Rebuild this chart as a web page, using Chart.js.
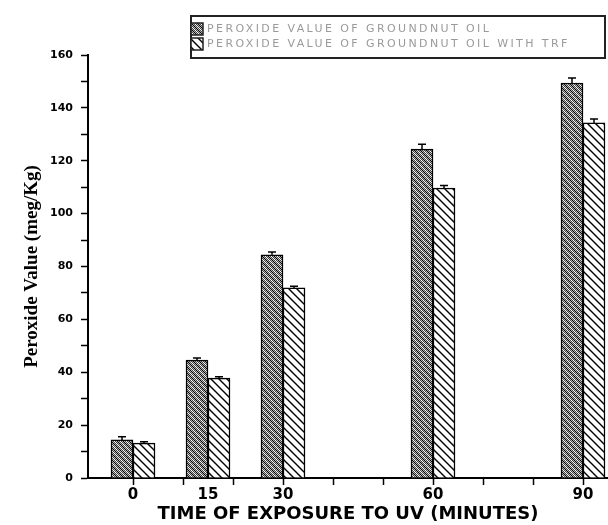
<!DOCTYPE html>
<html>
<head>
<meta charset="utf-8">
<script src="https://cdn.jsdelivr.net/npm/chart.js@4.4.1/dist/chart.umd.min.js"></script>
<style>
  body { margin: 0; background: #fff; }
</style>
</head>
<body>
<canvas id="bar-chart" width="608" height="525"></canvas>
<script>
const times = [0, 15, 30, 60, 90];
const oilValues = [14.4, 44.6, 84.4, 124.4, 149.4];
const trfValues = [13.2, 37.8, 71.9, 109.7, 134.3];
const oilErrors = [1.2, 0.8, 1.1, 1.8, 1.9];
const trfErrors = [0.5, 0.5, 0.6, 0.9, 1.5];
const xTickLabels = [0, 15, 30, 60, 90];
const xTickMarks = [0, 10, 15, 20, 30, 40, 50, 60, 70, 80, 90];
const seriesLabels = ['PEROXIDE VALUE OF GROUNDNUT OIL', 'PEROXIDE VALUE OF GROUNDNUT OIL WITH TRF'];

// fill patterns like the old plot
function makePattern(dense) {
  const size = dense ? 6 : 8;
  const tile = document.createElement('canvas');
  tile.width = size;
  tile.height = size;
  const c = tile.getContext('2d');
  c.fillStyle = '#fff';
  c.fillRect(0, 0, size, size);
  if (dense) {
    c.fillStyle = '#444';
    for (let y = 0; y < size; y++) {
      for (let x = y % 2; x < size; x += 2) c.fillRect(x, y, 1, 1);
    }
  }
  c.strokeStyle = '#000';
  c.lineWidth = dense ? 1.2 : 1.4;
  c.beginPath();
  for (const k of [-size, 0, size]) {
    c.moveTo(k - 1, -1);
    c.lineTo(k + size + 1, size + 1);
  }
  c.stroke();
  return c.createPattern(tile, 'repeat');
}

const errorBars = {
  id: 'errorBars',
  afterDatasetsDraw(chart) {
    const ctx = chart.ctx;
    const yScale = chart.scales.y;
    const errs = [oilErrors, trfErrors];
    ctx.save();
    ctx.strokeStyle = '#000';
    ctx.lineWidth = 1.5;
    chart.data.datasets.forEach((ds, d) => {
      chart.getDatasetMeta(d).data.forEach((bar, i) => {
        const top = yScale.getPixelForValue(ds.data[i].y + errs[d][i]);
        ctx.beginPath();
        ctx.moveTo(bar.x, bar.y);
        ctx.lineTo(bar.x, top);
        ctx.moveTo(bar.x - 4, top);
        ctx.lineTo(bar.x + 4, top);
        ctx.stroke();
      });
    });
    ctx.restore();
  }
};

const boxLegend = {
  id: 'boxLegend',
  afterDraw(chart) {
    const ctx = chart.ctx;
    ctx.save();
    ctx.strokeStyle = '#222';
    ctx.lineWidth = 2;
    ctx.strokeRect(191, 16, 414, 42);
    ctx.font = '11px "DejaVu Sans"';
    ctx.letterSpacing = '2.4px';
    ctx.textBaseline = 'middle';
    chart.data.datasets.forEach((ds, i) => {
      const y = 29 + i * 15;
      ctx.fillStyle = ds.backgroundColor;
      ctx.fillRect(191, y - 6, 12, 12);
      ctx.lineWidth = 1.5;
      ctx.strokeRect(191, y - 6, 12, 12);
      ctx.fillStyle = '#9a9a9a';
      ctx.fillText(ds.label, 207, y);
    });
    ctx.restore();
  }
};

new Chart(document.getElementById('bar-chart'), {
  type: 'bar',
  data: {
    datasets: [
      {
        label: seriesLabels[0],
        data: times.map((t, i) => ({ x: t, y: oilValues[i] })),
        backgroundColor: makePattern(true),
        borderColor: '#000',
        borderWidth: 1.5,
        barThickness: 22
      },
      {
        label: seriesLabels[1],
        data: times.map((t, i) => ({ x: t, y: trfValues[i] })),
        backgroundColor: makePattern(false),
        borderColor: '#000',
        borderWidth: 1.5,
        barThickness: 22
      }
    ]
  },
  options: {
    responsive: false,
    animation: false,
    layout: { padding: { top: 55, left: 0, right: 0, bottom: 0 } },
    plugins: {
      legend: { display: false },
      tooltip: { enabled: false }
    },
    scales: {
      x: {
        type: 'linear',
        min: -9,
        max: 95,
        offset: false,
        afterBuildTicks: axis => {
          axis.ticks = xTickMarks.map(v => ({ value: v }));
        },
        afterFit: s => { s.height = 47; },
        grid: {
          offset: false,
          drawOnChartArea: false,
          tickLength: 7,
          tickWidth: 1.5,
          tickColor: c => (c.tick && c.tick.value === 15) ? 'rgba(0,0,0,0)' : '#000'
        },
        border: { color: '#000', width: 2 },
        ticks: {
          autoSkip: false,
          maxRotation: 0,
          padding: 1,
          color: '#000',
          font: { family: 'DejaVu Sans', size: 15, weight: 'bold' },
          callback: v => xTickLabels.includes(v) ? v : ''
        },
        title: {
          display: true,
          text: 'TIME OF EXPOSURE TO UV (MINUTES)',
          color: '#000',
          padding: 0,
          font: { family: 'DejaVu Sans', size: 18, weight: 'bold' }
        }
      },
      y: {
        min: 0,
        max: 160,
        afterFit: s => { s.width = 88; },
        grid: {
          drawOnChartArea: false,
          tickLength: 7,
          tickWidth: 1.5,
          tickColor: '#000'
        },
        border: { color: '#000', width: 2 },
        ticks: {
          stepSize: 10,
          padding: 8,
          color: '#000',
          font: { family: 'DejaVu Sans', size: 11, weight: 'bold' },
          callback: v => v % 20 === 0 ? v : ''
        },
        title: {
          display: true,
          text: 'Peroxide Value (meg/Kg)',
          color: '#000',
          padding: { top: 21, bottom: 0 },
          font: { family: 'Liberation Serif', size: 19, weight: 'bold' }
        }
      }
    }
  },
  plugins: [errorBars, boxLegend]
});
</script>
</body>
</html>
